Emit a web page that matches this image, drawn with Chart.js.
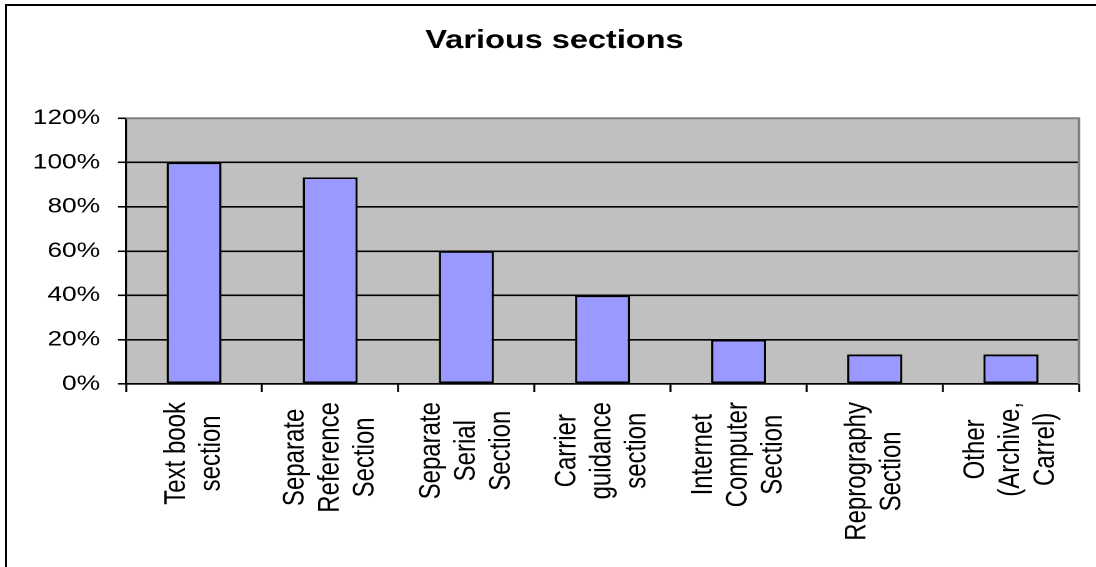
<!DOCTYPE html>
<html>
<head>
<meta charset="utf-8">
<script src="https://cdn.jsdelivr.net/npm/chart.js@4"></script>
<style>
  html, body { margin: 0; padding: 0; background: #fff; }
  body { width: 1096px; height: 567px; overflow: hidden; position: relative; }
  #wrap { position: absolute; left: 0; top: 0; width: 877px; height: 567px;
          transform: scaleX(1.2497); transform-origin: 0 0; }
  #frame { position: absolute; left: 5px; top: 4px; right: 0; bottom: 0;
           border-left: 2px solid #000; border-top: 2px solid #000; pointer-events: none; }
</style>
</head>
<body>
<div id="wrap"><canvas id="c" width="877" height="567"></canvas></div>
<div id="frame"></div>
<script>
// Library sections offered
const categories = [
  ["Text book", "section"],
  ["Separate", "Reference", "Section"],
  ["Separate", "Serial", "Section"],
  ["Carrier", "guidance", "section"],
  ["Internet", "Computer", "Section"],
  ["Reprography", "Section"],
  ["Other", "(Archive,", "Carrel)"]
];
// Share of libraries having each section
const shares = [1.00, 0.933, 0.60, 0.40, 0.20, 0.133, 0.133];
// Value axis ticks
const yTicks = [0, 0.2, 0.4, 0.6, 0.8, 1.0, 1.2];

const FONT = '"Liberation Sans", Arial, Helvetica, sans-serif';

// Grey plot background plus its grey top/right edge
const plotFrame = {
  id: 'plotFrame',
  beforeDraw(chart) {
    const { ctx, chartArea: a } = chart;
    ctx.save();
    ctx.fillStyle = '#C0C0C0';
    ctx.fillRect(a.left, a.top, a.right - a.left, a.bottom - a.top);
    ctx.restore();
  },
  beforeDatasetsDraw(chart) {
    const { ctx, chartArea: a } = chart;
    ctx.save();
    ctx.strokeStyle = '#808080';
    ctx.lineWidth = 2;
    ctx.beginPath();
    ctx.moveTo(a.left, a.top);
    ctx.lineTo(a.right, a.top);
    ctx.lineTo(a.right, a.bottom);
    ctx.stroke();
    ctx.restore();
  }
};

// Vertical category names: lines centred on each other, block hanging under the axis
const categoryText = {
  id: 'categoryText',
  afterDraw(chart) {
    const { ctx } = chart;
    const x = chart.scales.x;
    const lineGap = 28;
    ctx.save();
    ctx.font = '24px ' + FONT;
    ctx.fillStyle = '#000';
    ctx.textAlign = 'center';
    ctx.textBaseline = 'middle';
    chart.data.labels.forEach((lines, i) => {
      const cx = x.getPixelForValue(i);
      const longest = Math.max(...lines.map(l => ctx.measureText(l).width));
      const cy = x.top + 18 + longest / 2;
      lines.forEach((line, j) => {
        const lx = cx + (j - (lines.length - 1) / 2) * lineGap;
        ctx.save();
        ctx.translate(lx, cy);
        ctx.rotate(-Math.PI / 2);
        ctx.fillText(line, 0, 0);
        ctx.restore();
      });
    });
    ctx.restore();
  }
};

new Chart(document.getElementById('c'), {
  type: 'bar',
  data: {
    labels: categories,
    datasets: [{
      data: shares,
      backgroundColor: '#9999FF',
      borderColor: '#000',
      borderWidth: 1.8,
      borderSkipped: false,
      barPercentage: 0.404,
      categoryPercentage: 1
    }]
  },
  options: {
    responsive: false,
    animation: false,
    devicePixelRatio: 2,
    layout: { padding: { left: 24, right: 13.6, top: 0, bottom: 0 } },
    plugins: {
      legend: { display: false },
      tooltip: { enabled: false },
      title: {
        display: true,
        text: 'Various sections',
        color: '#000',
        font: { family: FONT, size: 26, weight: 'bold', lineHeight: 1.2 },
        padding: { top: 25, bottom: 62 }
      }
    },
    scales: {
      x: {
        offset: true,
        ticks: { display: false },
        grid: {
          offset: true,
          drawOnChartArea: false,
          drawTicks: true,
          tickLength: 8,
          tickColor: '#000',
          tickWidth: 1.6
        },
        border: { display: true, color: '#000', width: 1.6 },
        afterFit(scale) { scale.height = 183; }
      },
      y: {
        min: 0,
        max: 1.2,
        afterBuildTicks(scale) { scale.ticks = yTicks.map(v => ({ value: v })); },
        ticks: {
          padding: 14.4,
          color: '#000',
          font: { family: FONT, size: 21 },
          callback: v => Math.round(v * 100) + '%'
        },
        grid: {
          color: ctx => (ctx.tick && ctx.tick.value >= 1.2) ? 'rgba(0,0,0,0)' : '#000',
          lineWidth: 1.6,
          tickLength: 6.4,
          tickColor: '#000',
          tickWidth: 1.6
        },
        border: { display: true, color: '#000', width: 1.6 },
        afterFit(scale) { scale.width = 76.8; }
      }
    }
  },
  plugins: [plotFrame, categoryText]
});
</script>
</body>
</html>
